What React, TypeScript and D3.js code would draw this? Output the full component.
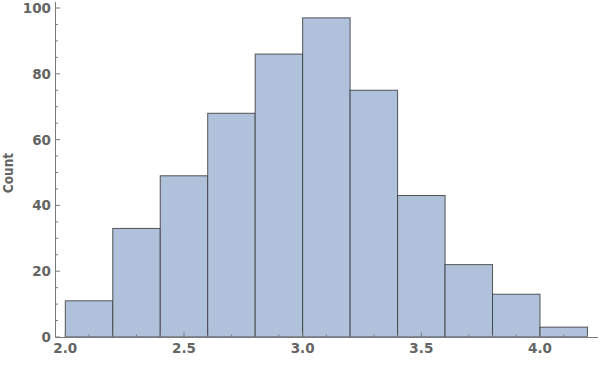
import React from "react";
import * as d3 from "d3";

const binEdges = [2.0, 2.2, 2.4, 2.6, 2.8, 3.0, 3.2, 3.4, 3.6, 3.8, 4.0, 4.2];
const counts = [11, 33, 49, 68, 86, 97, 75, 43, 22, 13, 3];
const xTickValues = [2.0, 2.5, 3.0, 3.5, 4.0];
const yTickValues = [0, 20, 40, 60, 80, 100];
const yLabel = "Count";

const W = 600;
const H = 381;

export default function App() {
  const x = d3.scaleLinear().domain([2.0, 4.0]).range([65.3, 540]);
  const y = d3.scaleLinear().domain([0, 100]).range([337, 8]);
  const xMin = x.invert(55.5);
  const xMax = x.invert(598);
  const yMax = y.invert(2);
  const xMinor = d3.range(20, 43).map((v) => v / 10).filter((v) => v >= xMin && v <= xMax && !xTickValues.some((t) => Math.abs(t - v) < 1e-9));
  const yMinor = d3.range(0, 101, 5).filter((v) => !yTickValues.includes(v));
  const axisColor = "#7a7a7a";
  const textColor = "#646464";
  const font = "'DejaVu Sans', sans-serif";
  const bars = counts.map((c, i) => ({ x0: binEdges[i], x1: binEdges[i + 1], c }));
  return (
    <svg width={W} height={H} style={{ position: "absolute", left: 0, top: 0 }}>
      <rect width={W} height={H} fill="white" />
      {bars.map((b, i) => (
        <rect
          key={i}
          x={x(b.x0)}
          y={y(b.c)}
          width={x(b.x1) - x(b.x0)}
          height={y(0) - y(b.c)}
          fill="#afc1db"
          stroke="#3c3c3c"
          strokeOpacity={0.85}
          strokeWidth={1}
        />
      ))}
      {/* x axis */}
      <line x1={55.5} x2={x(xMax)} y1={337.5} y2={337.5} stroke={axisColor} strokeWidth={1} />
      {xTickValues.map((t) => (
        <g key={t}>
          <line x1={x(t)} x2={x(t)} y1={337} y2={332.5} stroke={axisColor} />
          <text x={x(t)} y={352.5} textAnchor="middle" fontFamily={font} fontWeight="bold" fontSize={13.5} fill={textColor}>
            {t.toFixed(1)}
          </text>
        </g>
      ))}
      {xMinor.map((t) => (
        <line key={t} x1={x(t)} x2={x(t)} y1={337} y2={334.5} stroke={axisColor} />
      ))}
      {/* y axis */}
      <line x1={55.5} x2={55.5} y1={y(yMax)} y2={337.5} stroke={axisColor} strokeWidth={1} />
      {yTickValues.map((t) => (
        <g key={t}>
          <line x1={55.5} x2={60} y1={y(t)} y2={y(t)} stroke={axisColor} />
          <text x={51} y={y(t) + 5} textAnchor="end" fontFamily={font} fontWeight="bold" fontSize={13.5} fill={textColor}>
            {t}
          </text>
        </g>
      ))}
      {yMinor.map((t) => (
        <line key={t} x1={55.5} x2={58} y1={y(t)} y2={y(t)} stroke={axisColor} />
      ))}
      <text
        transform={`translate(13, 173) rotate(-90)`}
        textAnchor="middle"
        fontFamily="'DejaVu Sans Condensed', 'DejaVu Sans', sans-serif"
        fontWeight="bold"
        fontSize={13.5}
        fill={textColor}
      >
        {yLabel}
      </text>
    </svg>
  );
}
